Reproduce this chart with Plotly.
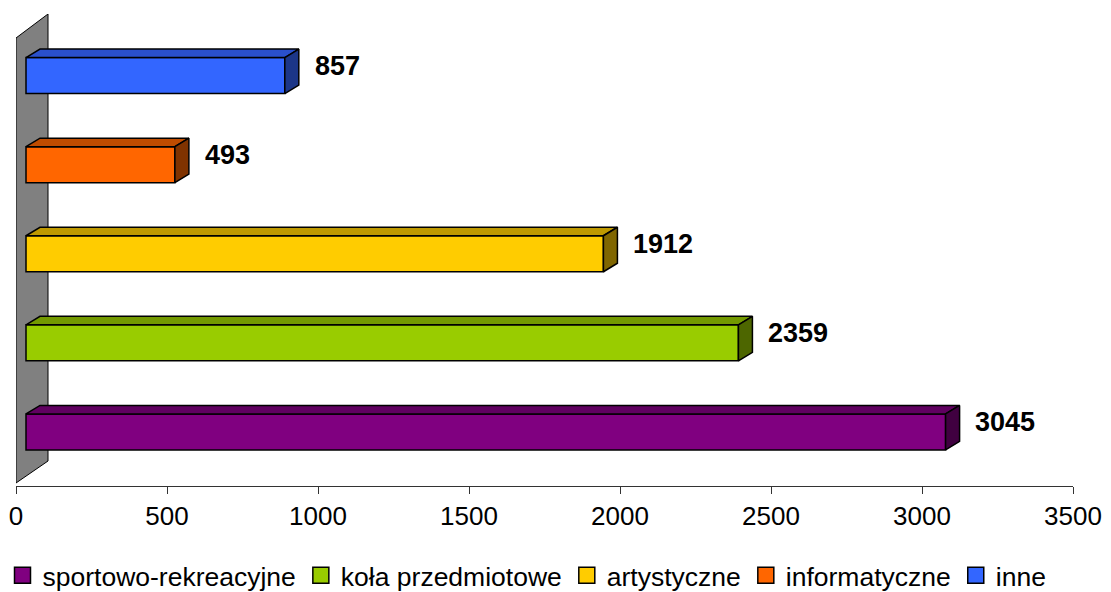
import plotly.graph_objects as go

# ---------------- data ----------------
categories = ["sportowo-rekreacyjne", "koła przedmiotowe", "artystyczne", "informatyczne", "inne"]
values = [3045, 2359, 1912, 493, 857]
front_colors = ["#800080", "#99CC00", "#FFCC00", "#FF6600", "#3366FF"]
top_colors = ["#600060", "#739900", "#BF9900", "#BF4C00", "#2A50CC"]
side_colors = ["#400040", "#4D6600", "#806600", "#803300", "#1C3688"]
x_ticks = [0, 500, 1000, 1500, 2000, 2500, 3000, 3500]

# ---------------- layout geometry (pixels) ----------------
W, H = 1111, 592
ML, MR, MT, MB = 16, 38, 14, 106
plot_w = W - ML - MR
plot_h = H - MT - MB
XMAX = 3500
kx = plot_w / XMAX                      # px per x unit
Y0 = -54 / 89
Y1 = (len(categories) - 1) + 61.5 / 89
ky = plot_h / (Y1 - Y0)                 # px per y unit

FRONT_OFF = 10 / kx                     # bar front face start offset
DX = 14 / kx                            # 3D depth offset (x)
DY = 8.5 / ky                           # 3D depth offset (y)
BAR_W = 36 / ky                         # bar thickness
LABEL_OFF = 125                         # label gap after value (data units)
LABEL_DY = 10 / ky

fig = go.Figure()

# back wall
wdx = 32 / kx
wall_path = (
    f"M 0,{Y0 + 3 / ky} L 0,{Y1 - 24 / ky} L {wdx},{Y1} L {wdx},{Y0 + 25 / ky} Z"
)
fig.add_shape(type="path", path=wall_path, xref="x", yref="y",
              fillcolor="#808080", line=dict(color="#000000", width=1), layer="below")

for i, (cat, v) in enumerate(zip(categories, values)):
    # front face
    fig.add_trace(go.Bar(
        orientation="h", y=[i], x=[v], base=FRONT_OFF, width=BAR_W,
        marker=dict(color=front_colors[i], line=dict(color="#000000", width=1.5)),
        showlegend=False, hoverinfo="skip",
    ))
    xl = FRONT_OFF
    xr = FRONT_OFF + v
    yt = i + BAR_W / 2
    yb = i - BAR_W / 2
    # top face
    fig.add_trace(go.Scatter(
        x=[xl, xr, xr + DX, xl + DX, xl], y=[yt, yt, yt + DY, yt + DY, yt],
        fill="toself", fillcolor=top_colors[i], mode="lines",
        line=dict(color="#000000", width=1.5), showlegend=False, hoverinfo="skip",
    ))
    # side face
    fig.add_trace(go.Scatter(
        x=[xr, xr + DX, xr + DX, xr, xr], y=[yb, yb + DY, yt + DY, yt, yb],
        fill="toself", fillcolor=side_colors[i], mode="lines",
        line=dict(color="#000000", width=1.5), showlegend=False, hoverinfo="skip",
    ))
    # value label
    fig.add_annotation(
        x=v + LABEL_OFF, y=i + LABEL_DY, text=f"<b>{v}</b>", showarrow=False,
        xanchor="left", yanchor="middle",
        font=dict(family="Liberation Sans, Arial, sans-serif", size=27, color="#000000"),
    )

# legend-only entries
for i, cat in enumerate(categories):
    fig.add_trace(go.Scatter(
        x=[None], y=[None], mode="markers", name=cat,
        marker=dict(symbol="square", size=16, color=front_colors[i],
                    line=dict(color="#000000", width=1.5)),
    ))

fig.update_layout(
    width=W, height=H,
    margin=dict(l=ML, r=MR, t=MT, b=MB, autoexpand=False),
    paper_bgcolor="#FFFFFF", plot_bgcolor="#FFFFFF",
    barmode="overlay",
    font=dict(family="Liberation Sans, Arial, sans-serif", size=26, color="#000000"),
    xaxis=dict(range=[0, XMAX], tickvals=x_ticks, ticktext=[str(t) for t in x_ticks],
               showgrid=False, zeroline=False, showline=True, linecolor="#333333",
               linewidth=1, ticks="outside", ticklen=7, tickcolor="#333333",
               tickfont=dict(size=26), fixedrange=True, automargin=False),
    yaxis=dict(range=[Y0, Y1], showticklabels=False, showgrid=False, zeroline=False,
               showline=False, ticks="", fixedrange=True, automargin=False),
    legend=dict(orientation="h", x=-(ML - 2.5) / plot_w, xanchor="left",
                y=(-(575.5 - (H - MB)) / plot_h),
                yanchor="middle", font=dict(size=26.5), itemwidth=30,
                bgcolor="rgba(0,0,0,0)", tracegroupgap=0),
    showlegend=True,
)

fig.write_html("out.html", config={"displayModeBar": False},
               post_script="document.body.style.margin='0';")
